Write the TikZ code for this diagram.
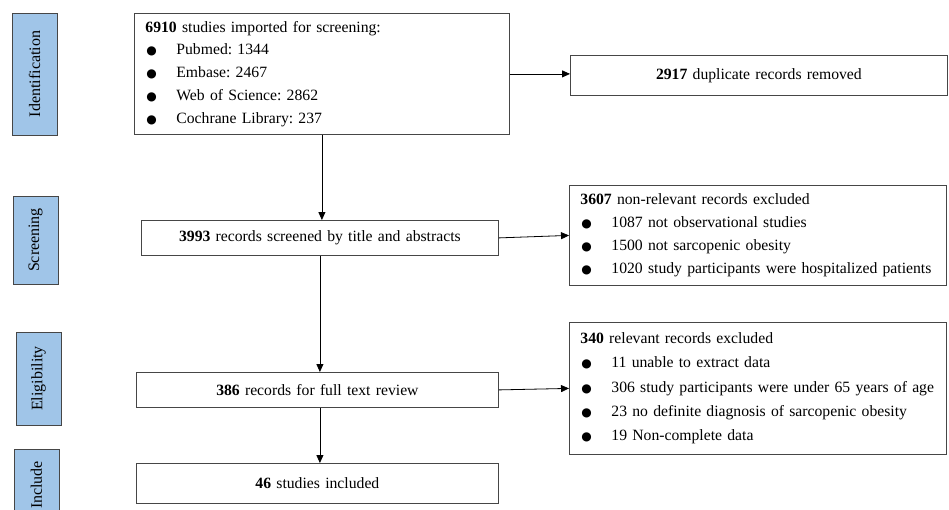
\documentclass[tikz,border=0pt]{standalone}
\usepackage{fontspec}
\setmainfont{Liberation Serif}
\newfontfamily\dotfont{DejaVu Sans}
\usetikzlibrary{arrows.meta}
\definecolor{stagefill}{RGB}{160,197,232}
\definecolor{framegray}{RGB}{70,70,70}
\frenchspacing
\tikzset{
  box/.style = {draw=framegray, anchor=north west, inner xsep=11pt, inner ysep=0pt,
    font=\fontsize{15.7}{22.8}\selectfont},
  stage/.style = {draw=framegray, fill=stagefill, rotate=90, inner sep=0pt,
    font=\fontsize{16}{19}\selectfont}
}
\tikzset{>={Triangle[length=8pt,width=7pt]}}
\newcommand{\dotitem}{\makebox[31pt][l]{\kern1pt\dotfont\fontsize{12}{12}\selectfont ●}}

\begin{document}
\begin{tikzpicture}[x=1pt,y=-1pt,thick]
  \useasboundingbox (0,0) rectangle (949,509);
  % stages
  \node[stage, minimum width=122, minimum height=45] (sid) at (34.5,74) {Identification};
  \node[stage, minimum width=88, minimum height=45] (sscr) at (35.5,240) {Screening};
  \node[stage, minimum width=93, minimum height=45] (selig) at (38.5,378.5) {Eligibility};
  \node[stage, minimum width=72, minimum height=45] (sinc) at (36.5,485) {Include};
  % main flow
  \node[box, minimum width=375, minimum height=121, text width=353, align=left] (imported) at (134,13)
    {\textbf{6910} studies imported for screening:\\
     \dotitem Pubmed: 1344\\
     \dotitem Embase: 2467\\
     \dotitem Web of Science: 2862\\
     \dotitem Cochrane Library: 237};
  \node[box, minimum width=377, minimum height=40, text width=355, align=center] (dup) at (570,55)
    {\textbf{2917} duplicate records removed};
  \node[box, minimum width=357, minimum height=35, text width=335, align=center] (screen) at (141,220)
    {\textbf{3993} records screened by title and abstracts};
  \node[box, minimum width=377, minimum height=100, text width=355, align=left] (excl1) at (569,185)
    {\textbf{3607} non-relevant records excluded\\
     \dotitem 1087 not observational studies\\
     \dotitem 1500 not sarcopenic obesity\\
     \dotitem 1020 study participants were hospitalized patients};
  \node[box, minimum width=362, minimum height=35, text width=340, align=center] (fulltext) at (136,372)
    {\textbf{386} records for full text review};
  \node[box, minimum width=377, minimum height=132, text width=355, align=left,
    font=\fontsize{15.7}{24.3}\selectfont] (excl2) at (569,322)
    {\textbf{340} relevant records excluded\\
     \dotitem 11 unable to extract data\\
     \dotitem 306 study participants were under 65 years of age\\
     \dotitem 23 no definite diagnosis of sarcopenic obesity\\
     \dotitem 19 Non-complete data};
  \node[box, minimum width=362, minimum height=40, text width=340, align=center] (included) at (136,463)
    {\textbf{46} studies included};
  % arrows
  \draw[->] (imported.east) -- (imported.east -| dup.west);
  \draw[->] (imported.south) -- (imported.south |- screen.north);
  \draw[->] (screen.east) -- (excl1.west);
  \draw[->] (screen.south) -- (screen.south |- fulltext.north);
  \draw[->] (fulltext.east) -- (excl2.west);
  \draw[->] (screen.south |- fulltext.south) -- (screen.south |- included.north);
\end{tikzpicture}
\end{document}
